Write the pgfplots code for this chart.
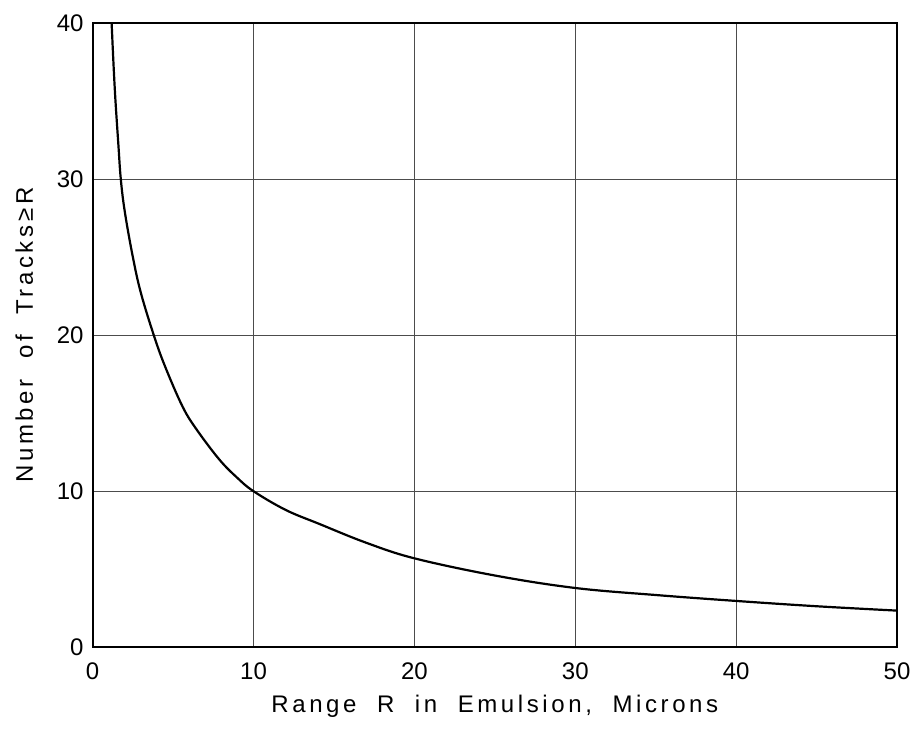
\documentclass[border=0pt]{standalone}
\usepackage{fontspec}
\setmainfont{Liberation Sans}
\newfontfamily\labelfont[LetterSpace=15]{Liberation Sans}
\usepackage{pgfplots}
\pgfplotsset{compat=1.18}

\pgfplotstableread{
R     N
1.18  40
1.3   37.3
1.42  35
1.6   32.2
1.75  30
2.0   27.9
2.5   25.0
3.0   22.7
3.8   20
4.5   18.0
5.6   15.4
6.5   13.9
7.9   12.0
9     10.85
10    10
12    8.8
14.1  7.9
17    6.7
20    5.7
25    4.6
30    3.8
35    3.35
40    2.97
45    2.63
50    2.35
}\tracks

\begin{document}
\begin{tikzpicture}
\begin{axis}[
  scale only axis, width=402pt, height=312pt,
  xmin=0, xmax=50, ymin=0, ymax=40,
  xtick={0,10,...,50}, ytick={0,10,...,40},
  grid=major, major grid style={black!70, line width=0.5pt},
  axis line style={black, line width=1.1pt},
  major tick length=0pt,
  tick label style={font=\fontsize{12}{14}\selectfont},
  /pgf/number format/assume math mode=true,
  xticklabel style={yshift=-4pt},
  yticklabel style={xshift=-1pt},
  xlabel={\labelfont Range\ \ R\ \ in\ \ Emulsion,\ \ Microns},
  ylabel={\labelfont Number\ \ of\ \ Tracks\,≥R},
  label style={font=\fontsize{12}{14}\selectfont},
  xlabel style={yshift=-1pt},
  ylabel style={yshift=5pt},
]
\addplot[black, line width=1.1pt, smooth, tension=0.6] table[x=R, y=N] {\tracks};
\end{axis}
\useasboundingbox ([shift={(-46.3pt,-42.5pt)}]current axis.south west) rectangle ([shift={(12pt,11.5pt)}]current axis.north east);
\end{tikzpicture}
\end{document}
